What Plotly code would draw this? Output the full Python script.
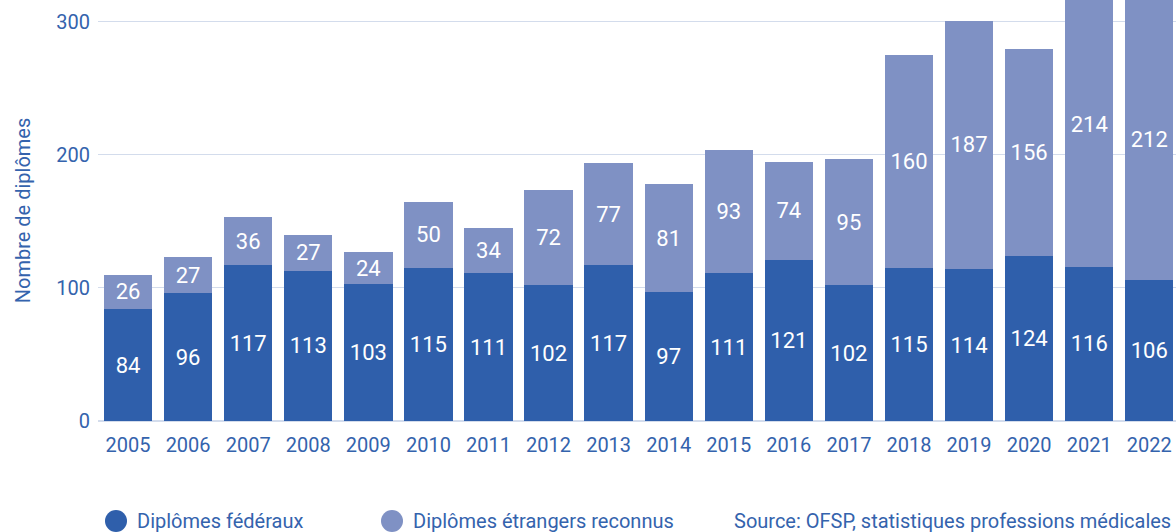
import plotly.graph_objects as go

years = list(range(2005, 2023))
federaux = [84, 96, 117, 113, 103, 115, 111, 102, 117, 97, 111, 121, 102, 115, 114, 124, 116, 106]
etrangers = [26, 27, 36, 27, 24, 50, 34, 72, 77, 81, 93, 74, 95, 160, 187, 156, 214, 212]
series_names = ["Diplômes fédéraux", "Diplômes étrangers reconnus"]
source_text = "Source: OFSP, statistiques professions médicales"
y_title = "Nombre de diplômes"

c_fed = "#2f5fab"
c_etr = "#7f91c4"
c_txt = "#3463ad"
grid = "#d3dcec"
FONT = "Roboto, Noto Sans, sans-serif"

fig = go.Figure()
for vals, col, name in [(federaux, c_fed, series_names[0]), (etrangers, c_etr, series_names[1])]:
    fig.add_trace(go.Bar(
        x=years, y=vals, name=name, marker=dict(color=col, line=dict(width=0)),
        text=[str(v) for v in vals], textposition="inside", insidetextanchor="middle",
        textangle=0, textfont=dict(color="white", size=22, family=FONT),
        showlegend=False, hoverinfo="x+y+name",
    ))

W, H = 1176, 532
L, B = 98, 111
pw, ph = W - L, H - B

def px_x(p):
    return (p - L) / pw

def px_y(p):
    return (ph - p) / ph

shapes = []
annotations = []
legend_items = [(116, 135, c_fed, series_names[0]), (392, 411, c_etr, series_names[1])]
for cx, tx, col, name in legend_items:
    shapes.append(dict(type="circle", xref="paper", yref="paper",
                       xsizemode="pixel", ysizemode="pixel",
                       xanchor=px_x(cx), yanchor=px_y(521),
                       x0=-11, x1=11, y0=-11, y1=11,
                       fillcolor=col, line=dict(width=0)))
    annotations.append(dict(text=name, xref="paper", yref="paper", x=px_x(tx), y=px_y(521),
                            xanchor="left", yanchor="middle", showarrow=False,
                            font=dict(size=20, color=c_txt, family=FONT)))
annotations.append(dict(text=source_text, xref="paper", yref="paper", x=px_x(1173), y=px_y(521),
                        xanchor="right", yanchor="middle", showarrow=False,
                        font=dict(size=20, color=c_txt, family=FONT)))

fig.update_layout(
    width=W, height=H,
    margin=dict(l=L, r=0, t=0, b=B, pad=0),
    barmode="stack", bargap=0.195,
    plot_bgcolor="white", paper_bgcolor="white",
    font=dict(family=FONT, color=c_txt, size=20),
    xaxis=dict(tickvals=years, ticktext=[str(y) for y in years], range=[2004.5, 2022.445],
               showgrid=False, showline=False, zeroline=False, ticks="",
               tickfont=dict(size=20, color=c_txt), ticklabelstandoff=10),
    yaxis=dict(range=[0, 316.5], tickvals=[0, 100, 200, 300], showgrid=True, gridcolor=grid,
               gridwidth=1, zeroline=True, zerolinecolor=grid, zerolinewidth=1.5,
               showline=False, ticks="", tickfont=dict(size=20, color=c_txt),
               ticklabelstandoff=7,
               title=dict(text=y_title, font=dict(size=20, color=c_txt), standoff=20)),
    shapes=shapes, annotations=annotations,
)

fig.write_html("out.html", config={"displayModeBar": False},
               post_script="document.body.style.margin='0';document.body.style.overflow='hidden';")
